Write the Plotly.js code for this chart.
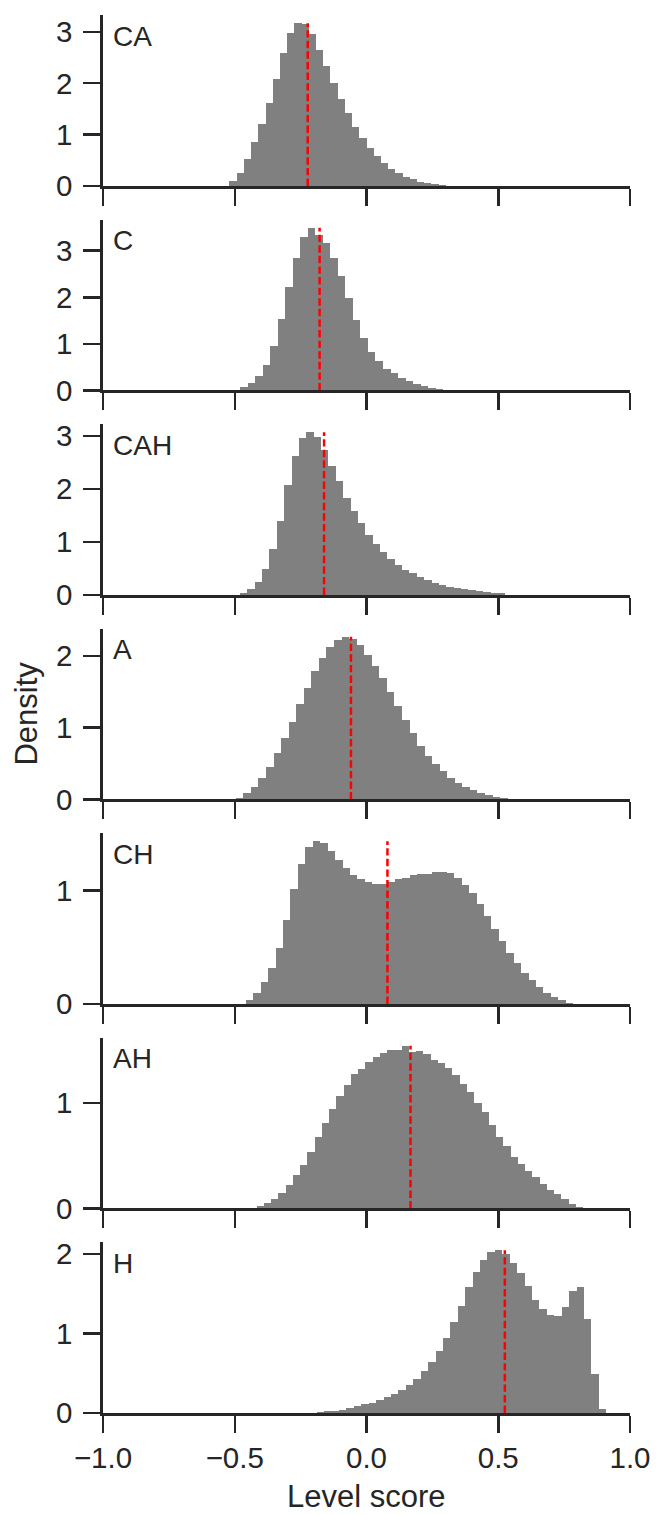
<!DOCTYPE html>
<html><head><meta charset="utf-8">
<script src="https://cdn.plot.ly/plotly-3.0.1.min.js"></script>
<style>html,body{margin:0;padding:0;background:#fff}</style>
</head><body>
<div id="chart" style="width:656px;height:1515px"></div>
<script>
// ---------- data ----------
const panelNames = ['CA', 'C', 'CAH', 'A', 'CH', 'AH', 'H'];
const binStarts  = [-0.520, -0.480, -0.480, -0.496, -0.458, -0.417, -0.189];
const binWidths  = [0.02737, 0.02856, 0.02796, 0.02866, 0.02824, 0.02753, 0.02818];
const meanScores = [-0.223, -0.178, -0.161, -0.059, 0.0795, 0.167, 0.525];

const densityCA  = [0.09,0.25,0.52,0.86,1.21,1.62,2.09,2.58,2.97,3.17,3.15,2.95,2.64,2.33,2.01,1.70,1.42,1.15,0.93,0.74,0.58,0.44,0.33,0.25,0.17,0.13,0.07,0.05,0.03,0.02];
const densityC   = [0.079,0.166,0.317,0.555,0.944,1.527,2.219,2.846,3.300,3.494,3.343,3.170,2.846,2.457,1.981,1.506,1.117,0.836,0.641,0.468,0.382,0.274,0.209,0.144,0.101,0.058,0.029];
const densityCAH = [0.038,0.114,0.247,0.493,0.872,1.403,2.067,2.617,2.958,3.072,2.977,2.731,2.427,2.143,1.839,1.593,1.365,1.138,0.967,0.815,0.683,0.569,0.474,0.417,0.341,0.284,0.228,0.190,0.152,0.133,0.114,0.095,0.076,0.057,0.038,0.038];
const densityA   = [0.014,0.085,0.169,0.296,0.451,0.648,0.859,1.085,1.324,1.549,1.789,1.972,2.127,2.225,2.268,2.239,2.155,2.014,1.859,1.690,1.493,1.296,1.113,0.930,0.746,0.606,0.493,0.394,0.296,0.225,0.169,0.127,0.085,0.056,0.028,0.014,0.009];
const densityCH  = [0.039,0.101,0.190,0.314,0.492,0.741,1.017,1.230,1.381,1.434,1.417,1.346,1.266,1.194,1.132,1.097,1.070,1.061,1.061,1.070,1.097,1.106,1.132,1.141,1.141,1.159,1.159,1.150,1.114,1.052,0.981,0.883,0.777,0.661,0.554,0.448,0.359,0.270,0.207,0.154,0.101,0.065,0.039,0.012];
const densityAH  = [0.019,0.051,0.089,0.147,0.224,0.319,0.415,0.540,0.683,0.808,0.942,1.067,1.172,1.278,1.325,1.393,1.440,1.479,1.508,1.508,1.546,1.488,1.498,1.469,1.412,1.383,1.335,1.268,1.182,1.105,1.000,0.913,0.789,0.683,0.597,0.492,0.425,0.358,0.300,0.233,0.176,0.137,0.089,0.042,0.013];
const densityH   = [0.013,0.025,0.025,0.038,0.063,0.084,0.110,0.122,0.160,0.198,0.236,0.287,0.351,0.427,0.528,0.642,0.781,0.946,1.149,1.351,1.579,1.769,1.921,2.023,2.048,1.997,1.883,1.757,1.592,1.427,1.313,1.237,1.225,1.339,1.529,1.579,1.187,0.490,0.046];

const xTickVals = [-1, -0.5, 0, 0.5, 1];
const xTickText = ['\u22121.0', '\u22120.5', '0.0', '0.5', '1.0'];
const xLabel = 'Level score';
const yLabel = 'Density';

// ---------- layout ----------
const densities = [densityCA, densityC, densityCAH, densityA, densityCH, densityAH, densityH];
const W = 656, H = 1515;
const mL = 102.5, mR = 26, mT = 15, mB = 101.7;
const plotH = H - mT - mB;
const plotW = W - mL - mR;
const panelStep = 204.55, panelH = 171;
const ink = '#262626';
const fontFam = 'Arial, "Liberation Sans", Helvetica, sans-serif';
const tickSize = 29.5;

const traces = [];
const annotations = [];
const layout = {
  width: W, height: H,
  margin: {l: mL, r: mR, t: mT, b: mB, pad: 0},
  showlegend: false, bargap: 0,
  paper_bgcolor: '#ffffff', plot_bgcolor: 'rgba(0,0,0,0)',
  font: {family: fontFam, color: ink},
  annotations: annotations
};

const n = panelNames.length;
for (let k = 0; k < n; k++) {
  const sfx = k === 0 ? '' : String(k + 1);
  const top = k * panelStep, bottom = top + panelH;
  const domain = [(plotH - bottom) / plotH, (plotH - top) / plotH];
  const d = densities[k];
  const centers = d.map((_, i) => binStarts[k] + (i + 0.5) * binWidths[k]);
  const maxD = Math.max(...d);
  traces.push({
    type: 'bar', x: centers, y: d, width: binWidths[k],
    marker: {color: '#808080', line: {width: 0}},
    xaxis: 'x' + sfx, yaxis: 'y' + sfx, hoverinfo: 'skip'
  });
  traces.push({
    type: 'scatter', mode: 'lines',
    x: [meanScores[k], meanScores[k]], y: [0, maxD],
    line: {color: '#ff0000', width: 2.5, dash: '7.4px,3.2px'},
    xaxis: 'x' + sfx, yaxis: 'y' + sfx, hoverinfo: 'skip'
  });
  layout['xaxis' + sfx] = {
    anchor: 'y' + sfx, domain: [0, 1], range: [-1, 1],
    showline: true, linecolor: ink, linewidth: 2.8,
    ticks: 'outside', ticklen: 17, tickwidth: 2.5, tickcolor: ink,
    tickmode: 'array', tickvals: xTickVals, ticktext: xTickText,
    showticklabels: k === n - 1, tickfont: {size: tickSize, color: ink},
    showgrid: false, zeroline: false, fixedrange: true
  };
  layout['yaxis' + sfx] = {
    anchor: 'x' + sfx, domain: domain, range: [0, maxD * 1.05],
    showline: true, linecolor: ink, linewidth: 2.8,
    ticks: 'outside', ticklen: 17, tickwidth: 2.5, tickcolor: ink,
    tickmode: 'linear', tick0: 0, dtick: 1,
    tickfont: {size: tickSize, color: ink}, ticklabelstandoff: 5,
    showgrid: false, zeroline: false, fixedrange: true
  };
  annotations.push({
    text: panelNames[k], xref: 'x' + sfx + ' domain', yref: 'y' + sfx + ' domain',
    x: 0.016, y: 0.876, xanchor: 'left', yanchor: 'middle',
    showarrow: false, font: {size: 28, color: ink}
  });
}

annotations.push({
  text: yLabel, xref: 'paper', yref: 'y4 domain',
  x: (25 - mL) / plotW, y: 0.5, xanchor: 'center', yanchor: 'middle',
  textangle: -90, showarrow: false, font: {size: 31, color: ink}
});
annotations.push({
  text: xLabel, xref: 'paper', yref: 'paper',
  x: 0.5, y: -(1496.9 - (H - mB)) / plotH, xanchor: 'center', yanchor: 'middle',
  showarrow: false, font: {size: 31, color: ink}
});

Plotly.newPlot('chart', traces, layout, {staticPlot: true, displayModeBar: false});
</script>
</body></html>
